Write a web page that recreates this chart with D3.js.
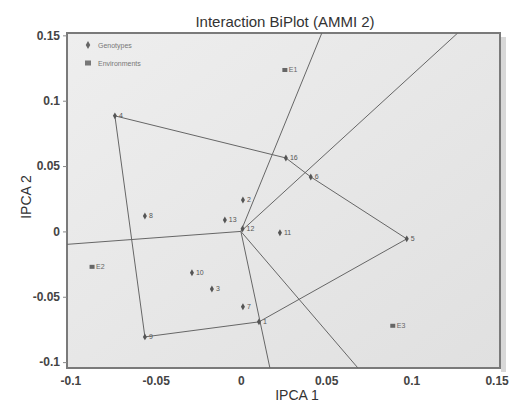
<html>
  <head>
    <meta charset="utf-8" />
    <title>Interaction BiPlot</title>
    <script src="https://cdn.jsdelivr.net/npm/d3@7"></script>
  </head>
  <style>
    html,
    body {
      margin: 0;
      padding: 0;
      background: #fff;
      overflow: hidden;
    }
    body {
      font-family: "Liberation Sans", Arial, sans-serif;
    }
    svg {
      display: block;
    }
  </style>
  <body>
    <svg width="517" height="405" id="mainsvg"></svg>
    <script>
      // genotypes
      const genoLabels = ["1", "2", "3", "4", "5", "6", "7", "8", "9", "10", "11", "12", "13", "16"];
      const genoX = [0.0106, 0.0012, -0.017, -0.0739, 0.0973, 0.041, 0.0012, -0.0563, -0.0563, -0.0287, 0.0229, 0.001, -0.0094, 0.0264];
      const genoY = [-0.0692, 0.0241, -0.044, 0.0884, -0.0057, 0.0417, -0.0577, 0.0118, -0.0807, -0.0317, -0.0011, 0.002, 0.0088, 0.0562];
      // environments
      const envLabels = ["E1", "E2", "E3"];
      const envX = [0.0258, -0.0873, 0.0891];
      const envY = [0.1235, -0.0271, -0.0722];
      // polygon vertices (genotype labels) and rays from the origin
      const hullOrder = ["4", "16", "6", "5", "1", "9"];
      const rayX = [0.0475, 0.1272, -0.102, 0.017, 0.0686];
      const rayY = [0.1518, 0.1518, -0.0099, -0.1044, -0.1044];
      // axes
      const xTicks = [-0.1, -0.05, 0, 0.05, 0.1, 0.15];
      const yTicks = [-0.1, -0.05, 0, 0.05, 0.1, 0.15];

      const svg = d3.select("svg");
      const margin = { top: 33, right: 17, bottom: 37, left: 67 };
      const innerWidth = 517 - margin.left - margin.right;
      const innerHeight = 405 - margin.top - margin.bottom;

      const xScale = d3.scaleLinear().domain([-0.102, 0.152]).range([0, innerWidth]);
      const yScale = d3.scaleLinear().domain([-0.1045, 0.1518]).range([innerHeight, 0]);
      const fmt = (d) => String(+d.toFixed(2));

      const defs = svg.append("defs");
      const grad = defs.append("linearGradient").attr("id", "bg").attr("x1", 0).attr("y1", 0).attr("x2", 1).attr("y2", 1);
      grad.append("stop").attr("offset", 0).attr("stop-color", "#eeeeee");
      grad.append("stop").attr("offset", 1).attr("stop-color", "#e0e0e0");
      defs.append("clipPath").attr("id", "clip").append("rect").attr("width", innerWidth).attr("height", innerHeight);

      const g = svg.append("g").attr("transform", `translate(${margin.left}, ${margin.top})`);

      // shadow + plot area
      g.append("rect")
        .attr("x", innerWidth + 1)
        .attr("y", 4)
        .attr("width", 5)
        .attr("height", innerHeight)
        .attr("fill", "#d8d8d8");
      g.append("rect")
        .attr("width", innerWidth)
        .attr("height", innerHeight)
        .attr("fill", "url(#bg)")
        .attr("stroke", "#7a7a7a")
        .attr("stroke-width", 2);

      // axes
      const yAxis = g.append("g")
        .call(d3.axisLeft(yScale).tickValues(yTicks).tickSize(4).tickFormat(fmt));
      const xAxis = g.append("g")
        .attr("transform", `translate(0, ${innerHeight})`)
        .call(d3.axisBottom(xScale).tickValues(xTicks).tickSize(0).tickPadding(8).tickFormat(fmt));
      [xAxis, yAxis].forEach((a) => {
        a.select(".domain").remove();
        a.selectAll("text").attr("fill", "#444").style("font-size", "12px").style("font-weight", "bold").style("font-family", "Liberation Sans, Arial");
        a.selectAll("line").attr("stroke", "#888");
      });

      const plot = g.append("g").attr("clip-path", "url(#clip)");

      // rays from origin
      plot.selectAll(".ray")
        .data(rayX)
        .join("line")
        .attr("class", "ray")
        .attr("x1", xScale(0))
        .attr("y1", yScale(0))
        .attr("x2", (d) => xScale(d))
        .attr("y2", (d, i) => yScale(rayY[i]))
        .attr("stroke", "#666")
        .attr("stroke-width", 1);

      // polygon
      const hull = hullOrder.map((l) => {
        const i = genoLabels.indexOf(l);
        return [xScale(genoX[i]), yScale(genoY[i])];
      });
      plot.append("path")
        .attr("d", d3.line()(hull) + "Z")
        .attr("fill", "none")
        .attr("stroke", "#666")
        .attr("stroke-width", 1);

      // genotype points
      const gp = g.selectAll(".geno")
        .data(genoLabels)
        .join("g")
        .attr("class", "geno")
        .attr("transform", (d, i) => `translate(${xScale(genoX[i])}, ${yScale(genoY[i])})`);
      gp.append("path")
        .attr("d", d3.symbol(d3.symbolDiamond, 14))
        .attr("fill", "#555");
      gp.append("text")
        .attr("x", 4)
        .attr("y", 2.5)
        .attr("fill", "#555")
        .style("font-size", "7px")
        .text((d) => d);

      // environment points
      const ep = g.selectAll(".env")
        .data(envLabels)
        .join("g")
        .attr("class", "env")
        .attr("transform", (d, i) => `translate(${xScale(envX[i])}, ${yScale(envY[i])})`);
      ep.append("rect")
        .attr("x", -2.5)
        .attr("y", -2)
        .attr("width", 5)
        .attr("height", 4)
        .attr("fill", "#666");
      ep.append("text")
        .attr("x", 4)
        .attr("y", 2.5)
        .attr("fill", "#666")
        .style("font-size", "7px")
        .text((d) => d);

      // legend
      const leg = g.append("g").attr("transform", "translate(21, 12)");
      leg.append("path").attr("d", d3.symbol(d3.symbolDiamond, 18)).attr("fill", "#666");
      leg.append("text").attr("x", 10).attr("y", 2.5).attr("fill", "#777").style("font-size", "7px").text("Genotypes");
      leg.append("rect").attr("x", -3).attr("y", 15.5).attr("width", 6).attr("height", 5).attr("fill", "#777");
      leg.append("text").attr("x", 10).attr("y", 20.5).attr("fill", "#777").style("font-size", "7px").text("Environments");

      // titles
      svg.append("text")
        .attr("x", 285)
        .attr("y", 27)
        .attr("text-anchor", "middle")
        .attr("fill", "#333")
        .style("font-size", "15px")
        .text("Interaction BiPlot (AMMI 2)");
      svg.append("text")
        .attr("x", 297)
        .attr("y", 400)
        .attr("text-anchor", "middle")
        .attr("fill", "#333")
        .style("font-size", "14px")
        .text("IPCA 1");
      svg.append("text")
        .attr("transform", "translate(31, 197) rotate(-90)")
        .attr("text-anchor", "middle")
        .attr("fill", "#333")
        .style("font-size", "14px")
        .text("IPCA 2");
    </script>
  </body>
</html>
